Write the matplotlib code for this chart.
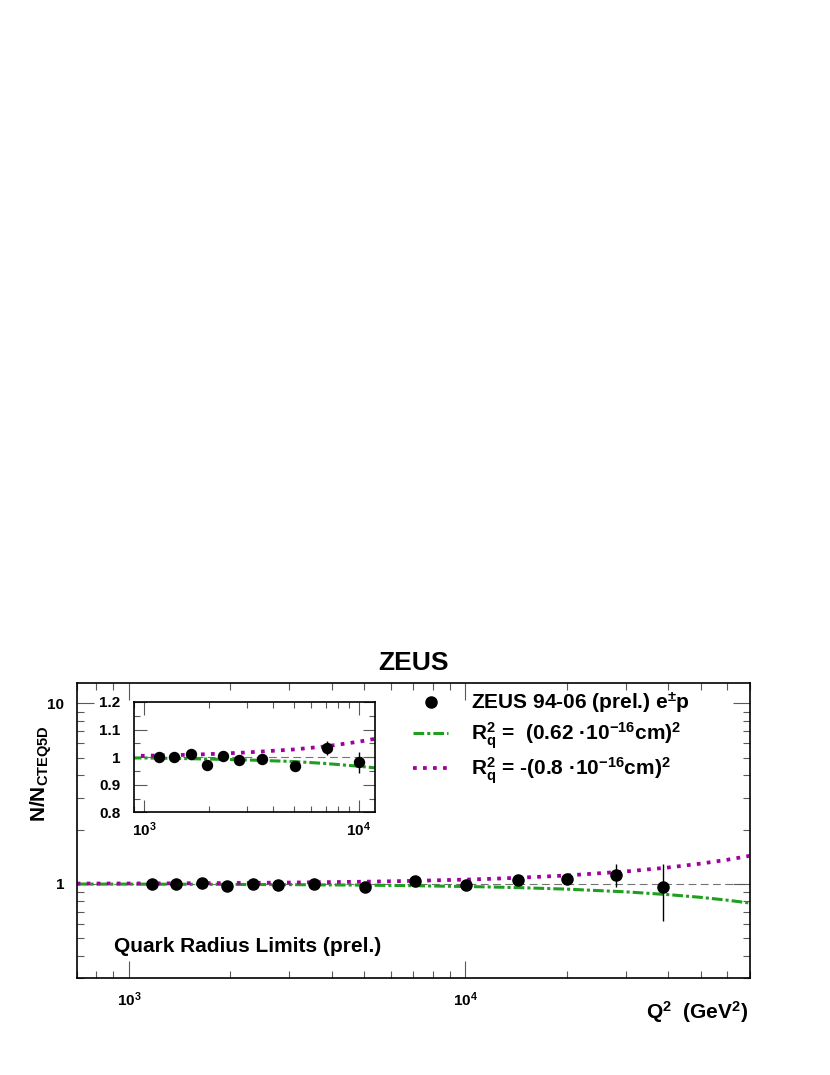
import numpy as np
import matplotlib
matplotlib.use('Agg')
import matplotlib.pyplot as plt
from matplotlib import rcParams
from matplotlib.ticker import FixedLocator, FixedFormatter, LogLocator, MultipleLocator, NullFormatter
from matplotlib.lines import Line2D

rcParams['font.family'] = 'Liberation Sans'
rcParams['font.weight'] = 'bold'
rcParams['mathtext.fontset'] = 'custom'
rcParams['mathtext.rm'] = 'Liberation Sans:bold'
rcParams['mathtext.it'] = 'Liberation Sans:bold'
rcParams['mathtext.bf'] = 'Liberation Sans:bold'
rcParams['mathtext.sf'] = 'Liberation Sans:bold'
rcParams['mathtext.default'] = 'rm'

# ZEUS 94-06 data (Q^2 in GeV^2, ratio to CTEQ5D)
q2 = [1170, 1380, 1650, 1960, 2330, 2770, 3550, 5020, 7100, 10050, 14300, 20000, 28000, 38500]
ratio = [1.001, 1.001, 1.011, 0.970, 1.004, 0.989, 0.995, 0.967, 1.033, 0.982, 1.048, 1.066, 1.126, 0.959]
err = [0.008, 0.009, 0.010, 0.011, 0.012, 0.013, 0.015, 0.018, 0.025, 0.038, 0.05, 0.07, 0.16, 0.335]

# quark radius limit curves
q2_curve = [700, 900, 1000, 1500, 2000, 3000, 5000, 7000, 10000, 12000, 15000, 20000, 30000, 40000, 50000, 60000, 70000]
r_pos = [0.998, 0.997, 0.997, 0.995, 0.993, 0.990, 0.984, 0.977, 0.967, 0.961, 0.951, 0.935, 0.903, 0.872, 0.842, 0.812, 0.783]
r_neg = [1.004, 1.005, 1.005, 1.008, 1.011, 1.017, 1.028, 1.039, 1.056, 1.067, 1.085, 1.113, 1.172, 1.232, 1.295, 1.36, 1.43]

green = '#1f9e1f'
magenta = '#a000a0'
W, H = 830, 1075

fig = plt.figure(figsize=(8.3, 10.75), dpi=100)
ax = fig.add_axes([76.7 / W, 1 - 978.3 / H, 673.3 / W, 295 / H])
ins = fig.add_axes([134.3 / W, 1 - 812.3 / H, 240.7 / W, 110.3 / H])


def draw(a, n, ms):
    a.axhline(1, color='0.45', lw=0.8, dashes=(7, 4), zorder=1)
    a.plot(q2_curve, r_pos, color=green, lw=2.2, dashes=(3.5, 1.0, 1.0, 1.0), zorder=2)
    a.plot(q2_curve, r_neg, color=magenta, lw=2.7, dashes=(1.0, 1.67), zorder=2)
    a.errorbar(q2[:n], ratio[:n], yerr=err[:n], fmt='o', color='black', ms=ms,
               elinewidth=1.0, capsize=0, zorder=3)
    a.set_xscale('log')
    for s in a.spines.values():
        s.set_linewidth(1.2)
    a.tick_params(which='both', direction='in', top=True, right=True, width=0.8, color='0.35')
    a.tick_params(which='major', length=12)
    a.tick_params(which='minor', length=5)


draw(ax, len(q2), 8)
ax.set_yscale('log')
ax.set_xlim(700, 70000)
ax.set_ylim(0.3, 12.9)
ax.xaxis.set_major_locator(FixedLocator([1e3, 1e4]))
ax.xaxis.set_major_formatter(FixedFormatter(['$10^{3}$', '$10^{4}$']))
ax.xaxis.set_minor_locator(LogLocator(base=10, subs=np.arange(2, 10)))
ax.xaxis.set_minor_formatter(NullFormatter())
ax.yaxis.set_major_locator(FixedLocator([1, 10]))
ax.yaxis.set_major_formatter(FixedFormatter(['1', '10']))
ax.yaxis.set_minor_locator(LogLocator(base=10, subs=np.arange(2, 10)))
ax.yaxis.set_minor_formatter(NullFormatter())
ax.tick_params(axis='x', labelsize=11, pad=9)
ax.tick_params(axis='y', labelsize=11, pad=9)

draw(ins, 10, 7.2)
ins.set_xlim(900, 11900)
ins.set_ylim(0.8, 1.2)
ins.xaxis.set_major_locator(FixedLocator([1e3, 1e4]))
ins.xaxis.set_major_formatter(FixedFormatter(['$10^{3}$', '$10^{4}$']))
ins.xaxis.set_minor_locator(LogLocator(base=10, subs=np.arange(2, 10)))
ins.xaxis.set_minor_formatter(NullFormatter())
ins.yaxis.set_major_locator(MultipleLocator(0.1))
ins.yaxis.set_major_formatter(FixedFormatter(['', '0.8', '0.9', '1', '1.1', '1.2']))
ins.yaxis.set_minor_locator(MultipleLocator(0.05))
ins.tick_params(which='major', length=9)
ins.tick_params(which='minor', length=4)
ins.tick_params(axis='x', labelsize=11, pad=6)
ins.tick_params(axis='y', labelsize=11, pad=10)

handles = [
    Line2D([], [], marker='o', color='black', ls='none', ms=8),
    Line2D([], [], color=green, lw=2.2, dashes=(3.5, 1.0, 1.0, 1.0)),
    Line2D([], [], color=magenta, lw=2.7, dashes=(1.0, 1.67)),
]
labels = [
    'ZEUS 94-06 (prel.) e$^{\\pm}$p',
    '$R_{q}^{2}$ =  (0.62 ·10$^{-16}$cm)$^{2}$',
    '$R_{q}^{2}$ = -(0.8 ·10$^{-16}$cm)$^{2}$',
]
ax.legend(handles, labels, loc='upper left', bbox_to_anchor=(413 / W, 1 - 690 / H),
          bbox_transform=fig.transFigure, frameon=False, fontsize=15,
          handlelength=1.7, handletextpad=1.1, labelspacing=0.25, borderpad=0, borderaxespad=0)

fig.text(413 / W, 1 - 663.5 / H, 'ZEUS', ha='center', va='center', fontsize=19)
fig.text(114 / W, 1 - 947 / H, 'Quark Radius Limits (prel.)', ha='left', va='center', fontsize=15)
fig.text(41.5 / W, 1 - 725 / H, 'N/N$_{CTEQ5D}$', rotation=90, ha='center', va='top', fontsize=15)
fig.text(748 / W, 1 - 1012 / H, 'Q$^{2}$  (GeV$^{2}$)', ha='right', va='center', fontsize=15)

fig.savefig('out.png', dpi=100)
